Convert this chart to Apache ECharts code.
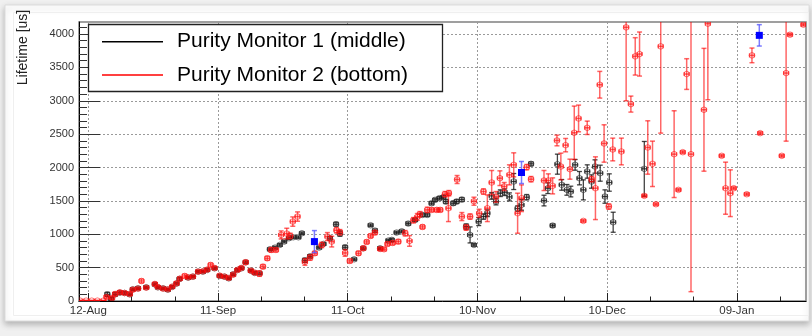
<!DOCTYPE html>
<html>
<head>
<meta charset="utf-8">
<script src="https://cdn.jsdelivr.net/npm/echarts@6/dist/echarts.min.js"></script>
<style>
  html, body { margin: 0; padding: 0; background: #f0f0f0; }
  #chart { width: 812px; height: 336px; }
</style>
</head>
<body>
<div id="chart"></div>
<script>
// Days are counted from 12-Aug (day 0).
const tickDays = [0, 30, 60, 90, 120, 150];
const tickLabels = ['12-Aug', '11-Sep', '11-Oct', '10-Nov', '10-Dec', '09-Jan'];
const minorDays = [10, 20, 40, 50, 70, 80, 100, 110, 130, 140, 160];
const yTicks = [0, 500, 1000, 1500, 2000, 2500, 3000, 3500, 4000];
const yMinorTicks = [100, 200, 300, 400, 600, 700, 800, 900, 1100, 1200, 1300, 1400,
  1600, 1700, 1800, 1900, 2100, 2200, 2300, 2400, 2600, 2700, 2800, 2900,
  3100, 3200, 3300, 3400, 3600, 3700, 3800, 3900, 4100];

// Purity Monitor 1 (middle)
const pm1Day = [4.4, 5.3, 6.2, 7.3, 8.4, 9.6, 10.3, 11.5, 13.4, 15.4, 16.1, 17.3, 18.4, 19.4, 20.4,
  21.1, 23.1, 24.2, 25.4, 26.5, 27.5, 29.2, 30.4, 31.5, 32.5, 33.5, 34.5, 35.4, 36.4, 37.6, 38.5,
  39.6, 42.0, 43.2, 44.3, 45.3, 46.4, 47.4, 48.6, 49.4, 50.1, 51.3, 53.4, 54.4, 55.9, 57.3, 58.2,
  59.4, 61.5, 63.6, 65.3, 66.3, 67.5, 69.4, 70.2, 71.3, 72.5, 74.0, 75.6, 77.3, 78.4, 79.4, 80.2,
  81.2, 82.1, 82.7, 84.4, 85.2, 86.4, 87.4, 88.3, 89.2, 90.3, 91.4, 92.3, 93.3, 94.3, 95.3, 96.3,
  97.4, 98.4, 99.3, 100.2, 101.4, 102.4, 105.4, 106.3, 107.4, 108.5, 109.5, 110.7, 111.6, 112.6,
  113.6, 114.5, 115.4, 116.4, 117.2, 118.4, 119.5, 120.5, 121.4, 128.6];
const pm1Value = [100, 30, 100, 125, 120, 100, 175, 190, 205, 250, 205, 190, 170, 210, 260,
  330, 350, 365, 440, 440, 465, 490, 375, 365, 340, 400, 465, 490, 580, 455, 420,
  415, 775, 800, 840, 890, 940, 955, 955, 1015, 610, 670, 800, 855, 940, 1150, 1010,
  805, 625, 790, 1135, 1055, 790, 905, 915, 1025, 1045, 1160, 1215, 1290, 1290, 1465, 1515,
  1540, 1555, 1490, 1465, 1490, 1520, 1115, 990, 840, 1190, 1265, 1315, 1575, 1490, 1615, 1630,
  1560, 1790, 1385, 1440, 1555, 2055, 1505, 1690, 1130, 2050, 1740, 1665, 1640, 2040,
  1840, 1665, 1940, 1790, 2015, 1915, 1565, 1775, 1180, 1980];
const pm1Err = [30, 25, 25, 25, 20, 20, 20, 20, 20, 20, 20, 20, 20, 20, 20,
  25, 20, 20, 20, 20, 20, 20, 20, 20, 20, 20, 20, 20, 20, 20, 20,
  20, 20, 20, 20, 20, 20, 20, 20, 20, 30, 25, 20, 20, 25, 30, 40,
  30, 20, 20, 20, 25, 20, 20, 25, 20, 20, 25, 25, 25, 25, 25, 25,
  25, 25, 30, 30, 30, 30, 40, 120, 20, 60, 40, 50, 50, 50, 50, 50,
  60, 120, 40, 80, 40, 30, 80, 80, 25, 150, 80, 80, 80, 80,
  100, 150, 100, 100, 100, 120, 100, 130, 150, 410];

// Purity Monitor 2 (bottom)
const pm2Day = [-1.9, -0.5, 0.8, 2.1, 3.5, 4.2, 5.5, 6.2, 7.3, 8.4, 9.6, 10.3, 11.5, 12.3, 13.4,
  15.4, 16.1, 17.3, 18.4, 19.4, 20.4, 21.2, 22.3, 23.1, 24.2, 25.4, 26.5, 27.5, 28.3, 29.2, 30.4,
  31.5, 32.5, 33.5, 34.5, 35.4, 36.4, 37.6, 38.5, 39.6, 40.4, 41.4, 42.3, 43.4, 44.6, 45.9, 46.7,
  47.3, 48.4, 50.1, 51.3, 52.4, 54.0, 55.3, 56.3, 57.4, 58.2, 59.4, 60.5, 62.5, 63.6, 64.4, 65.3,
  66.3, 67.5, 68.4, 69.2, 70.4, 71.7, 73.3, 74.3, 75.2, 76.1, 76.7, 77.3, 78.4, 79.4, 80.6, 81.4,
  82.5, 83.4, 83.3, 85.3, 86.4, 87.4, 88.3, 89.2, 90.4, 91.4, 92.3, 93.3, 94.3, 95.2, 96.2, 97.4,
  98.4, 99.3, 100.2, 101.4, 102.4, 105.4, 106.4, 107.4, 108.4, 109.3, 110.4, 111.4, 112.4, 113.4,
  114.5, 115.4, 116.4, 117.3, 118.3, 119.3, 120.4, 121.3, 123.3, 124.4, 125.5, 126.5, 127.5, 128.6,
  129.4, 130.5, 131.3, 132.4, 135.5, 136.5, 137.5, 138.4, 139.4, 142.4, 143.3, 146.5, 147.4, 148.5,
  149.3, 152.3, 153.5, 155.4, 160.4, 161.4, 162.3, 165.4];
const pm2Value = [5, 5, 5, 5, 5, 60, 45, 105, 130, 120, 105, 170, 185, 300, 200,
  255, 210, 185, 175, 215, 265, 335, 375, 355, 365, 440, 445, 470, 540, 495, 380,
  365, 345, 395, 465, 495, 580, 455, 425, 410, 515, 640, 765, 765, 990, 1010, 975,
  1190, 1265, 585, 650, 715, 840, 965, 890, 1060, 1030, 720, 600, 715, 790, 885, 975,
  1025, 780, 775, 855, 870, 890, 1015, 900, 1210, 1260, 1300, 1110, 1365, 1365, 1365, 1365,
  1600, 1615, 1390, 1820, 1265, 1100, 1265, 1495, 1315, 1640, 1390, 1775, 1560, 1840, 1715, 1890,
  2040, 1315, 1540, 2005, 1825, 1805, 1805, 1725, 2405, 2015, 2335, 1975, 2520, 2735,
  1200, 2595, 1825, 1690, 3240, 2360, 1415, 2270, 2240, 4100, 2950, 3665, 3700, 1575,
  2300, 2055, 1450, 3815, 2200, 1665, 2230, 3400, 2200, 2865, 4155, 2175, 1690, 1615,
  1690, 1600, 3680, 2515, 2175, 3415, 3990, 4140];
const pm2Err = [5, 5, 5, 5, 5, 25, 25, 30, 25, 25, 25, 25, 20, 30, 20,
  25, 20, 20, 20, 20, 25, 25, 30, 20, 20, 25, 20, 25, 30, 25, 25,
  20, 25, 25, 25, 25, 30, 25, 25, 40, 30, 30, 35, 30, 60, 80, 40,
  70, 70, 50, 40, 30, 40, 60, 80, 40, 40, 50, 30, 30, 30, 30, 30,
  30, 25, 25, 30, 30, 30, 40, 80, 40, 50, 40, 30, 40, 30, 30, 30,
  40, 40, 200, 60, 60, 40, 40, 60, 60, 40, 200, 180, 80, 110, 60, 150,
  180, 300, 200, 40, 40, 150, 100, 120, 80, 200, 100, 150, 400, 200,
  20, 100, 40, 470, 200, 280, 40, 170, 200, 1100, 120, 280, 330, 20,
  400, 340, 20, 1300, 650, 20, 20, 230, 2060, 920, 1140, 20, 390, 350,
  20, 20, 110, 20, 20, 1020, 20, 20];

// Reference measurements
const refDay = [52.3, 100.2, 155.2];
const refValue = [890, 1925, 3980];
const refErr = [165, 165, 160];

// half width of each time bin, in days
const binHalf = 0.55;

function rows(days, vals, errs) {
  return days.map((d, i) => [d, vals[i], errs[i]]);
}

function errorBars(barColor, markerColor, barWidth, filledSquare) {
  return function (params, api) {
    const x = api.value(0), y = api.value(1), e = api.value(2);
    const p = api.coord([x, y]);
    const pt = api.coord([x, y + e]);
    const pb = api.coord([x, y - e]);
    const pl = api.coord([x - binHalf, y]);
    const pr = api.coord([x + binHalf, y]);
    const cap = 2.5;
    const st = { stroke: barColor, lineWidth: barWidth, fill: null };
    const children = [
      { type: 'line', shape: { x1: p[0], y1: pt[1], x2: p[0], y2: pb[1] }, style: st },
      { type: 'line', shape: { x1: p[0] - cap, y1: pt[1], x2: p[0] + cap, y2: pt[1] }, style: st },
      { type: 'line', shape: { x1: p[0] - cap, y1: pb[1], x2: p[0] + cap, y2: pb[1] }, style: st },
      { type: 'line', shape: { x1: pl[0], y1: p[1], x2: pr[0], y2: p[1] }, style: st },
      { type: 'line', shape: { x1: pl[0], y1: p[1] - 2, x2: pl[0], y2: p[1] + 2 }, style: st },
      { type: 'line', shape: { x1: pr[0], y1: p[1] - 2, x2: pr[0], y2: p[1] + 2 }, style: st }
    ];
    if (filledSquare) {
      children.push({ type: 'rect', shape: { x: p[0] - 3.5, y: p[1] - 3.5, width: 7, height: 7 },
        style: { fill: markerColor } });
    } else {
      children.push({ type: 'circle', shape: { cx: p[0], cy: p[1], r: 2.8 },
        style: { stroke: markerColor, lineWidth: 0.8, fill: null } });
    }
    return { type: 'group', children };
  };
}

const chart = echarts.init(document.getElementById('chart'), null, { renderer: 'canvas' });

const dotted = { color: '#9a9a9a', width: 1, type: [2, 2] };

chart.setOption({
  backgroundColor: '#f0f0f0',
  animation: false,
  grid: { left: 79, right: 6, top: 22, bottom: 35, show: true, borderColor: '#808080', borderWidth: 1.5, backgroundColor: 'transparent' },
  xAxis: [
    {
      type: 'value', min: -2.15, max: 166, position: 'bottom',
      axisLine: { show: true, onZero: false, lineStyle: { color: '#000', width: 1 } },
      axisTick: { show: true, inside: true, length: 8, customValues: tickDays, lineStyle: { color: '#222' } },
      axisLabel: {
        customValues: tickDays, margin: 4, fontSize: 11.5, color: '#333', fontFamily: 'Liberation Sans',
        formatter: v => tickLabels[tickDays.indexOf(v)]
      },
      splitLine: { show: true, lineStyle: dotted }
    },
    {
      type: 'value', min: -2.15, max: 166, position: 'bottom',
      axisLine: { show: false, onZero: false },
      axisTick: { show: true, inside: true, length: 4.5, customValues: minorDays, lineStyle: { color: '#222' } },
      axisLabel: { show: false },
      splitLine: { show: false }
    }
  ],
  yAxis: [
    {
      type: 'value', min: 0, max: 4180, position: 'left',
      axisLine: { show: true, onZero: false, lineStyle: { color: '#000', width: 1 } },
      axisTick: { show: true, inside: true, length: 21, customValues: yTicks, lineStyle: { color: '#333' } },
      axisLabel: { customValues: yTicks, margin: 5, fontSize: 11, color: '#333', fontFamily: 'Liberation Sans',
        formatter: v => String(v) },
      splitLine: { show: true, lineStyle: dotted }
    },
    {
      type: 'value', min: 0, max: 4180, position: 'left',
      axisLine: { show: false, onZero: false },
      axisTick: { show: true, inside: true, length: 8, customValues: yMinorTicks, lineStyle: { color: '#333' } },
      axisLabel: { show: false },
      splitLine: { show: false }
    }
  ],
  series: [
    {
      name: 'Purity Monitor 1 (middle)', type: 'custom', xAxisIndex: 0, yAxisIndex: 0, clip: true,
      renderItem: errorBars('rgba(20,20,20,0.8)', 'rgba(60,60,60,0.8)', 1.3, false),
      encode: { x: 0, y: 1 },
      data: rows(pm1Day, pm1Value, pm1Err), z: 3
    },
    {
      name: 'Purity Monitor 2 (bottom)', type: 'custom', xAxisIndex: 0, yAxisIndex: 0, clip: true,
      renderItem: errorBars('rgba(255,0,0,0.6)', 'rgba(255,30,30,0.75)', 1.5, false),
      encode: { x: 0, y: 1 },
      data: rows(pm2Day, pm2Value, pm2Err), z: 4
    },
    {
      name: 'Reference', type: 'custom', xAxisIndex: 0, yAxisIndex: 0, clip: true,
      renderItem: errorBars('rgba(90,90,255,0.8)', '#0000ff', 1.5, true),
      encode: { x: 0, y: 1 },
      data: rows(refDay, refValue, refErr), z: 5
    }
  ],
  graphic: [
    { type: 'rect', z: -20, shape: { x: 5, y: 5, width: 804, height: 316 },
      style: { fill: '#ffffff', stroke: '#dcdcdc', lineWidth: 1, shadowBlur: 6, shadowColor: 'rgba(0,0,0,0.25)', shadowOffsetY: 3 } },
    { type: 'rect', z: -19, shape: { x: 13.5, y: 12.5, width: 795, height: 303 },
      style: { fill: null, stroke: '#efefef', lineWidth: 1 } },
    { type: 'text', z: 10, x: 23, y: 47.5, rotation: Math.PI / 2,
      style: { text: 'Lifetime [us]', fontSize: 14, fontFamily: 'Liberation Sans', fill: '#222', align: 'center', verticalAlign: 'middle' } },
    { type: 'rect', z: 20, shape: { x: 88.5, y: 24.5, width: 354, height: 67 },
      style: { fill: '#ffffff', stroke: '#222', lineWidth: 1.3 } },
    { type: 'line', z: 21, shape: { x1: 102, y1: 41.7, x2: 163, y2: 41.7 }, style: { stroke: '#000', lineWidth: 1.5 } },
    { type: 'line', z: 21, shape: { x1: 102, y1: 75, x2: 163, y2: 75 }, style: { stroke: '#ff0000', lineWidth: 1.5 } },
    { type: 'text', z: 21, x: 177, y: 41.7,
      style: { text: 'Purity Monitor 1 (middle)', fontSize: 21, fontFamily: 'Liberation Sans', fill: '#000', align: 'left', verticalAlign: 'middle' } },
    { type: 'text', z: 21, x: 177, y: 75,
      style: { text: 'Purity Monitor 2 (bottom)', fontSize: 21, fontFamily: 'Liberation Sans', fill: '#000', align: 'left', verticalAlign: 'middle' } }
  ]
});
</script>
</body>
</html>
